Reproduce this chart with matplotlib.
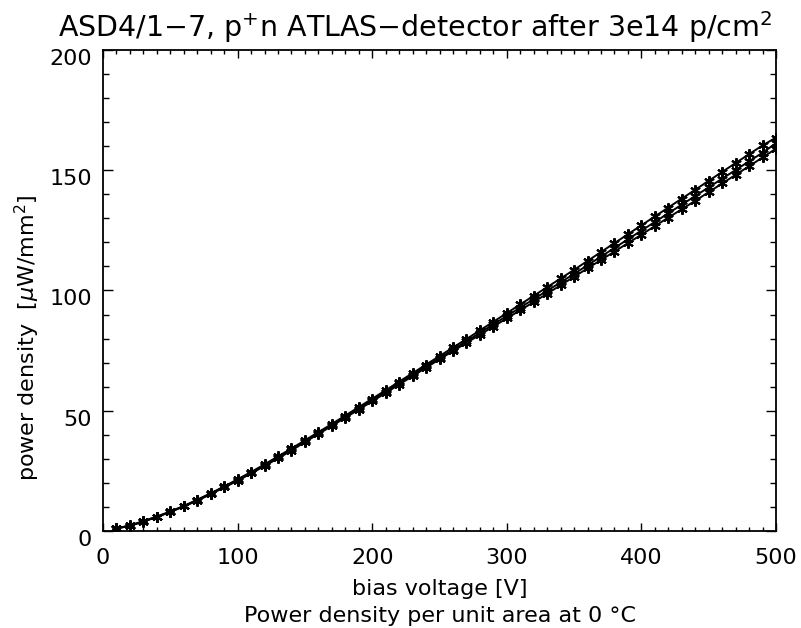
import matplotlib
matplotlib.use('Agg')
import matplotlib.pyplot as plt
from matplotlib.ticker import MultipleLocator
from matplotlib.transforms import ScaledTranslation

plt.rcParams['font.family'] = ['DejaVu Sans']

# bias voltage [V]
voltage = [10, 20, 30, 40, 50, 60, 70, 80, 90, 100,
           110, 120, 130, 140, 150, 160, 170, 180, 190, 200,
           210, 220, 230, 240, 250, 260, 270, 280, 290, 300,
           310, 320, 330, 340, 350, 360, 370, 380, 390, 400,
           410, 420, 430, 440, 450, 460, 470, 480, 490, 500]

# power density [uW/mm^2], three measurements
power_top = [1.1, 2.3, 4.1, 6.0, 8.1, 10.4, 13.0, 15.7, 18.5, 21.5,
             24.5, 27.7, 31.0, 34.3, 37.7, 41.1, 44.5, 48.0, 51.5, 55.0,
             58.5, 62.1, 65.6, 69.2, 72.7, 76.3, 79.8, 83.4, 87.0, 90.6,
             94.2, 97.8, 101.4, 105.0, 108.6, 112.3, 116.0, 119.7, 123.4, 127.1,
             130.8, 134.5, 138.2, 141.9, 145.6, 149.3, 153.0, 156.7, 160.3, 163.6]
power_mid = [1.1, 2.2, 4.0, 5.9, 8.0, 10.3, 12.8, 15.5, 18.3, 21.2,
             24.2, 27.4, 30.6, 33.9, 37.3, 40.6, 44.0, 47.4, 50.9, 54.4,
             57.9, 61.4, 64.9, 68.4, 71.9, 75.4, 78.9, 82.4, 85.9, 89.4,
             92.9, 96.4, 99.9, 103.4, 106.9, 110.5, 114.1, 117.7, 121.3, 124.9,
             128.5, 132.1, 135.7, 139.3, 142.9, 146.5, 150.1, 153.7, 157.3, 161.2]
power_bot = [1.0, 2.1, 3.9, 5.8, 7.9, 10.2, 12.6, 15.3, 18.1, 20.9,
             23.9, 27.0, 30.2, 33.4, 37.0, 40.3, 43.7, 47.1, 50.5, 53.9,
             57.4, 60.9, 64.4, 67.9, 71.4, 74.8, 78.2, 81.6, 85.0, 88.4,
             91.8, 95.2, 98.7, 102.2, 105.7, 109.2, 112.7, 116.2, 119.7, 123.2,
             126.8, 130.3, 133.8, 137.3, 140.9, 144.5, 148.1, 151.7, 155.3, 159.0]

fig = plt.figure(figsize=(8.01, 6.28), dpi=100)
ax = fig.add_axes([0.1286, 0.1545, 0.8402, 0.7659])

for series in (power_top, power_mid, power_bot):
    ax.plot(voltage, series, color='black', linewidth=1.4,
            marker=(6, 2, 0), markersize=7.5, markeredgewidth=1.5)

ax.set_xlim(0, 500)
ax.set_ylim(0, 200)
ax.xaxis.set_major_locator(MultipleLocator(100))
ax.xaxis.set_minor_locator(MultipleLocator(10))
ax.yaxis.set_major_locator(MultipleLocator(50))
ax.yaxis.set_minor_locator(MultipleLocator(10))
ax.tick_params(which='both', direction='in', top=True, right=True,
               labelsize=16, width=1, color='black')
ax.tick_params(axis='x', which='major', length=6, pad=12)
ax.tick_params(axis='x', which='minor', length=3)
ax.tick_params(axis='y', which='major', length=7.5, pad=8)
ax.tick_params(axis='y', which='minor', length=4)
for s in ax.spines.values():
    s.set_linewidth(1.3)

# y tick labels sit a little below their ticks in the original
shift = ScaledTranslation(0, -0.07, fig.dpi_scale_trans)
for lab in ax.get_yticklabels():
    lab.set_transform(lab.get_transform() + shift)

fig.text(0.034, 0.462, r'power density  [$\mu$W/mm$^2$]', fontsize=16,
         rotation=90, ha='center', va='center')
fig.text(0.0724, 0.9416, r'ASD4/1$-$7, p$^{+}$n ATLAS$-$detector after 3e14 p/cm$^2$',
         fontsize=20.5, ha='left', va='baseline')
fig.text(0.549, 0.0525, 'bias voltage [V]', fontsize=16, ha='center', va='baseline')
fig.text(0.549, 0.0096, 'Power density per unit area at 0 \u00b0C', fontsize=16,
         ha='center', va='baseline')

fig.savefig('out.png', dpi=100)
